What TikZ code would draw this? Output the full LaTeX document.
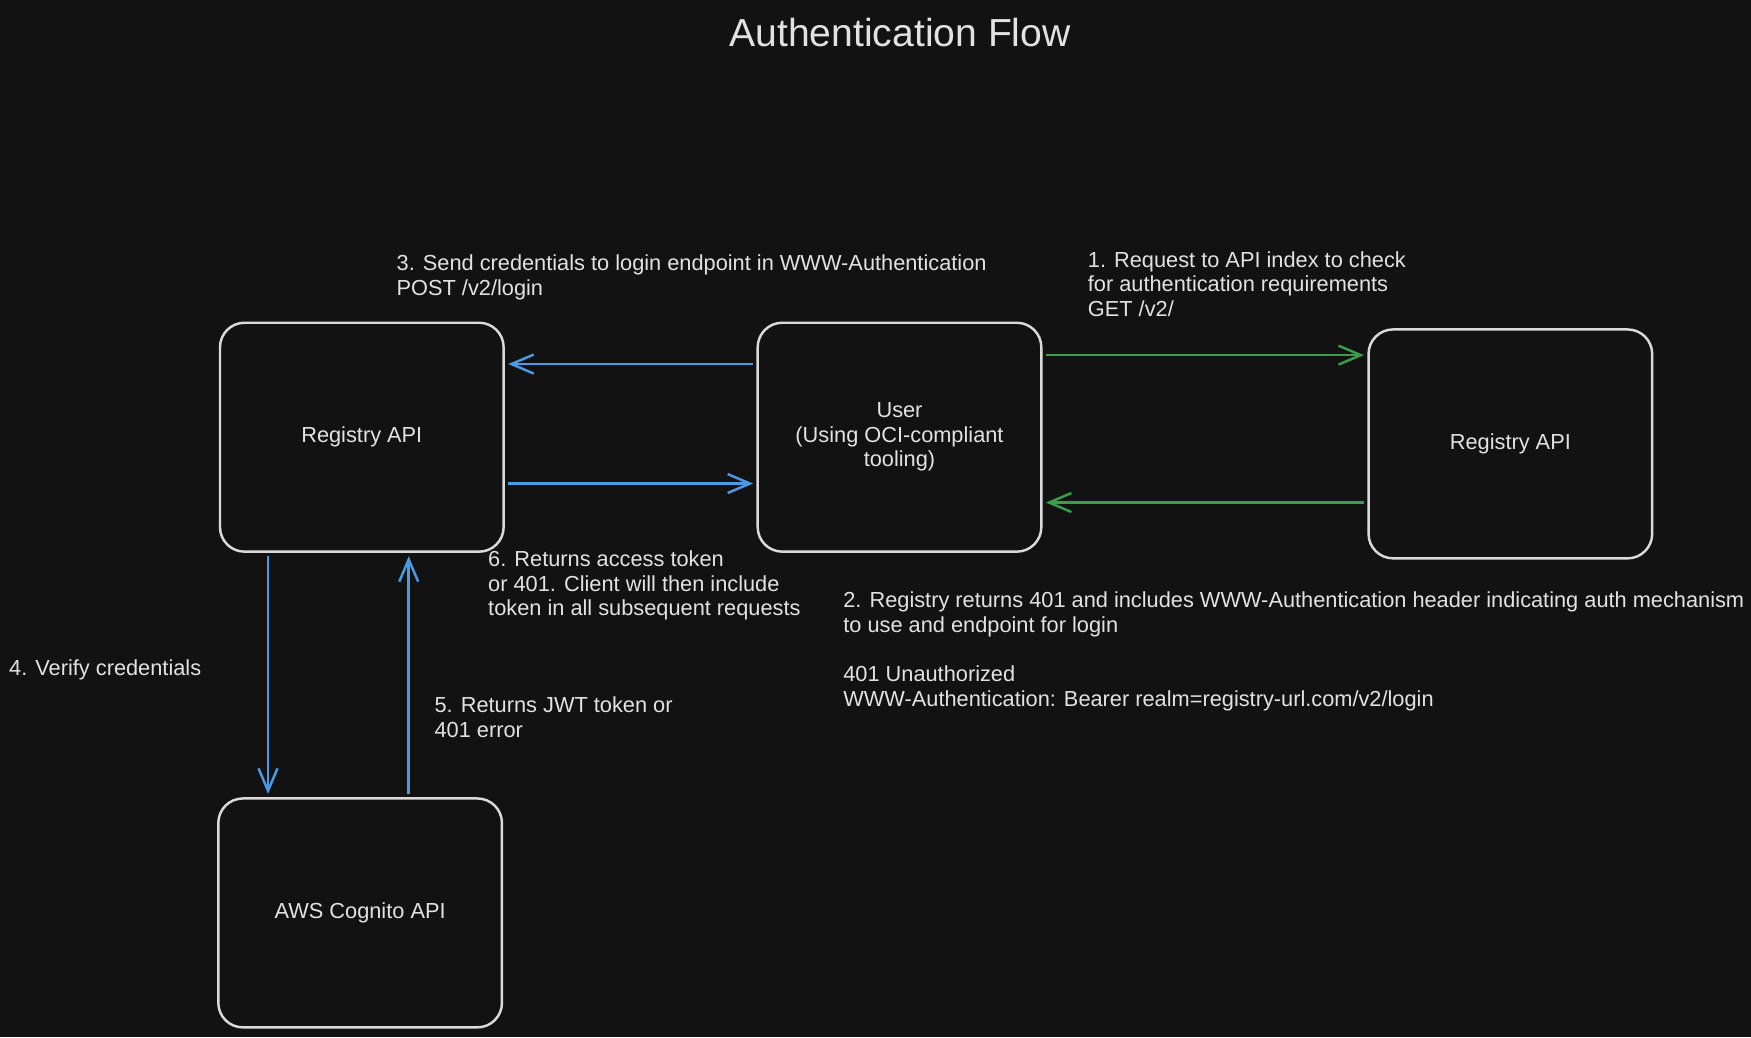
\documentclass[tikz,border=0pt]{standalone}
\usepackage{fontspec}
\setmainfont{Liberation Sans}
\usetikzlibrary{arrows.meta}
\definecolor{bgdark}{HTML}{121212}
\definecolor{strokegray}{HTML}{DADADA}
\definecolor{textgray}{HTML}{E2E2E2}
\definecolor{arrowblue}{HTML}{4A9BE6}
\definecolor{arrowgreen}{HTML}{3A9D4A}
\tikzset{
  box/.style={draw=strokegray,line width=2.2pt,rounded corners=22pt,
    minimum width=254pt,minimum height=205pt,align=center,text=textgray,
    font=\fontsize{19.5}{22}\selectfont},
  lbl/.style={anchor=north west,inner sep=0pt,align=left,text=textgray,
    font=\fontsize{19.5}{22}\selectfont},
  blueline/.style={draw=arrowblue,line width=2.2pt,->,shorten >=3pt,shorten <=3pt},
  greenline/.style={draw=arrowgreen,line width=2.2pt,->,shorten >=3pt,shorten <=3pt},
  >={Straight Barb[length=20pt,width=17pt,line width=2.2pt]}
}
\begin{document}
\begin{tikzpicture}[x=1pt,y=-1pt]
      \fill[bgdark] (0,0) rectangle (1568,929);
      \useasboundingbox (0,0) rectangle (1568,929);
      \node[text=textgray,font=\fontsize{35}{40}\selectfont] (title) at (806,29) {Authentication Flow};
      %% Boxes
      \node[box] (regL) at (324,391.5) {Registry API};
      \node[box] (user) at (805.5,391.5) {User\\(Using OCI-compliant\\tooling)};
      \node[box] (regR) at (1352.5,397.5) {Registry API};
      \node[box] (cognito) at (322.5,817.5) {AWS Cognito API};
      %% Horizontal arrows
      \draw[greenline] ([yshift=73.5pt]user.east) -- ([yshift=73.5pt]user.east -| regR.west);
      \draw[greenline] ([yshift=-52.5pt]regR.west) -- ([yshift=-52.5pt]regR.west -| user.east);
      \draw[blueline] ([yshift=65.5pt]user.west) -- ([yshift=65.5pt]user.west -| regL.east);
      \draw[blueline] ([yshift=-41.5pt]regL.east) -- ([yshift=-41.5pt]regL.east -| user.west);
      %% Vertical arrows
      \draw[blueline] ([xshift=-84pt]regL.south) -- ([xshift=-84pt]regL.south |- cognito.north);
      \draw[blueline] ([xshift=42pt]regL.south |- cognito.north) -- ([xshift=42pt]regL.south);
      %% labels
      \node[lbl] (l1) at (974,225) {1. Request to API index to check\\for authentication requirements\\GET /v2/};
      \node[lbl] (l2) at (755,530) {2. Registry returns 401 and includes WWW-Authentication header indicating auth mechanism\\to use and endpoint for login\\[22pt]401 Unauthorized\\WWW-Authentication: Bearer realm=registry-url.com/v2/login};
      \node[lbl] (l3) at (355,228) {3. Send credentials to login endpoint in WWW-Authentication\\POST /v2/login};
      \node[lbl] (l4) at (8,591) {4. Verify credentials};
      \node[lbl] (l5) at (389,624) {5. Returns JWT token or\\401 error};
      \node[lbl] (l6) at (437,493) {6. Returns access token\\or 401. Client will then include\\token in all subsequent requests};
\end{tikzpicture}
\end{document}
